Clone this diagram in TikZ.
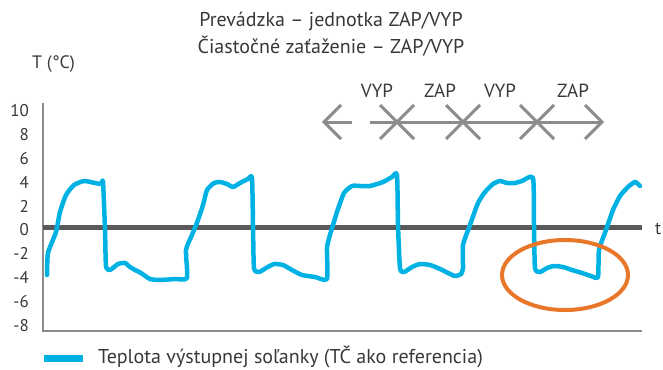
\documentclass[tikz,border=0pt]{standalone}
\usepackage{fontspec}
\setmainfont{PT Sans}
\usetikzlibrary{shapes.geometric}
\definecolor{textgray}{HTML}{383838}
\definecolor{axisgray}{HTML}{8C8C8C}
\definecolor{zerogray}{HTML}{595959}
\definecolor{curveblue}{HTML}{00B2E3}
\definecolor{ringorange}{HTML}{E8772A}
\begin{document}
\begin{tikzpicture}[x=1pt,y=-1pt,
  txt/.style={text=textgray, font=\fontsize{17}{20}\selectfont, inner sep=0pt},
  bigtxt/.style={txt, font=\fontsize{20}{24}\selectfont},
  phasetxt/.style={txt, font=\fontsize{19}{22}\selectfont, anchor=base},
  ticklbl/.style={txt, anchor=east},
  axisline/.style={draw=axisgray, line width=2.6pt},
  zeroline/.style={draw=zerogray, line width=4.5pt},
  curveline/.style={draw=curveblue, line width=4.5pt, line cap=round, line join=round},
  arrowline/.style={draw=axisgray, line width=3pt, line join=miter},
  ring/.style={draw=ringorange, line width=4pt}]
\useasboundingbox (0,0) rectangle (663,369);
% titles
\node[bigtxt, anchor=base] (title1) at (331,27) {Prevádzka – jednotka ZAP/VYP};
\node[bigtxt, anchor=base] (title2) at (331,54) {Čiastočné zaťaženie – ZAP/VYP};
\node[txt, anchor=base west, font=\fontsize{18}{21}\selectfont] (ylabel) at (32,68) {T (°C)};
% axes
\coordinate (ytop) at (43,103);
\coordinate (origin) at (43,331);
\coordinate (xend) at (642,331);
\coordinate (zl) at (43,227.5);
\coordinate (zr) at (642,227.5);
\draw[axisline] (ytop) -- (origin) -- (xend);
\draw[zeroline] (zl) -- (zr);
\node[txt, anchor=west, font=\fontsize{18}{21}\selectfont] (tlbl) at (655,229) {t};
% tick labels
\foreach \v in {10,8,6,4,2,0,-2,-4,-6,-8}{
  \node[ticklbl] (tick\v) at (29,{230-11.95*\v}) {\v};
}
% phase arrows
\coordinate (a0) at (324,122);
\coordinate (a1) at (352,122);
\coordinate (a2) at (370,122);
\coordinate (a3) at (397,122);
\coordinate (a4) at (463,122);
\coordinate (a5) at (537,122);
\coordinate (a6) at (602,122);
\draw[arrowline] (a0) -- (a1);
\draw[arrowline] (a2) -- (a3) -- (a4) -- (a5) -- (a6);
\foreach \c in {a0,a3,a4,a5}{
  \draw[arrowline] ([shift={(17,-17)}]\c) -- (\c) -- ([shift={(17,17)}]\c);
}
\foreach \c in {a3,a4,a5,a6}{
  \draw[arrowline] ([shift={(-17,-17)}]\c) -- (\c) -- ([shift={(-17,17)}]\c);
}
\node[phasetxt] (p1) at (377,97) {VYP};
\node[phasetxt] (p2) at (440,97) {ZAP};
\node[phasetxt] (p3) at (500,97) {VYP};
\node[phasetxt] (p4) at (573,97) {ZAP};
% curve
\draw[curveline] plot[smooth, tension=0.35] coordinates {
 (47,275) (48,253) (56,232) (60,212) (66,195) (74,185) (84,181) (95,183) (101,184) (103,182)
 (105,230) (106,266) (110,270) (118,264) (125,263) (130,267) (135,270) (141,273) (150,279) (160,280) (175,279) (187,278)
 (186,250) (192,235) (198,220) (203,205) (207,190) (214,183) (220,182) (227,184) (233,187) (240,183) (248,179) (252,178)
 (253,225) (254,268) (259,272) (266,268) (274,264) (283,265) (292,270) (302,275) (315,277) (327,279)
 (327,248) (330,235) (337,212) (344,193) (352,186) (360,186) (370,186) (383,182) (392,177) (397,175)
 (398,225) (400,268) (404,272) (412,267) (420,264) (430,265) (440,269) (448,273) (455,276) (461,274) (463,268)
 (463,245) (470,225) (478,203) (485,192) (493,184) (500,181) (507,183) (515,183) (522,181) (533,178)
 (534,225) (535,268) (540,272) (547,268) (554,266) (563,267) (572,270) (582,273) (591,276) (598,277)
 (599,250) (606,230) (613,210) (620,196) (628,187) (635,182) (640,186)};
% highlight ring
\node[ring, ellipse, minimum width=126pt, minimum height=70pt, inner sep=0pt] (hl) at (565,275) {};
% legend
\node[fill=curveblue, minimum width=39pt, minimum height=7pt, inner sep=0pt] (legsw) at (63.5,358.5) {};
\node[bigtxt, anchor=base west] (legtxt) at (98,363) {Teplota výstupnej soľanky (TČ ako referencia)};
\end{tikzpicture}
\end{document}
